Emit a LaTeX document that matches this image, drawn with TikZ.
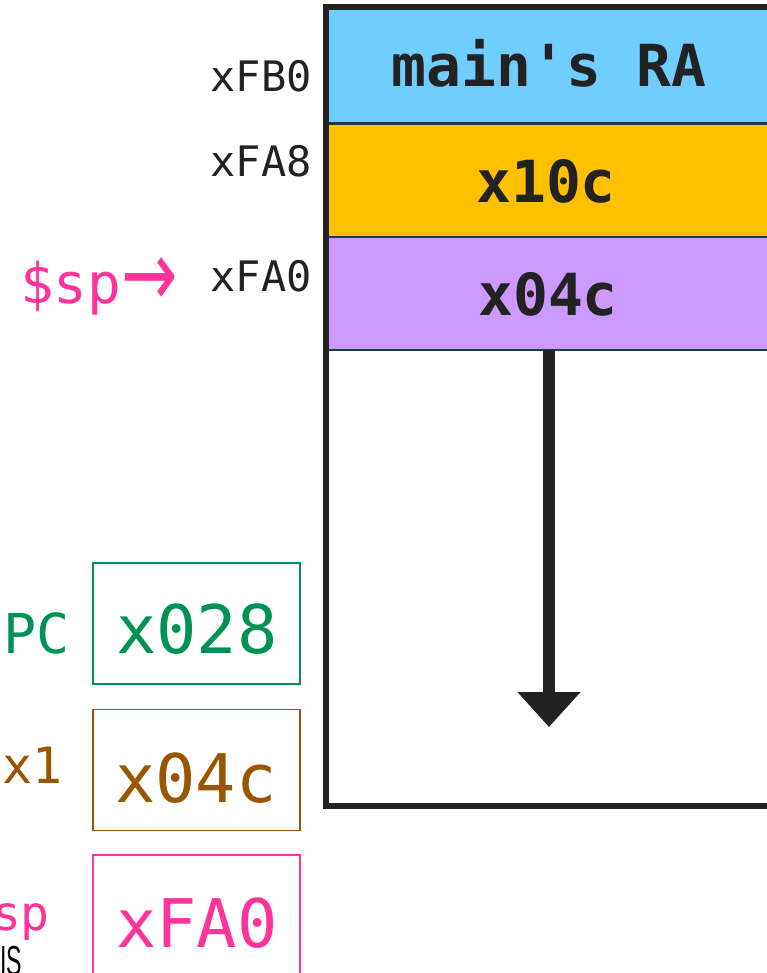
\documentclass[tikz,border=0pt]{standalone}
\usepackage{fontspec}
\usepackage{graphicx}
\setmainfont{DejaVu Sans}
\setmonofont{DejaVu Sans Mono}
\newfontfamily\narrowfont{Liberation Sans}
\newfontfamily\arrowfont{DejaVu Sans}
\usetikzlibrary{arrows.meta}

\definecolor{slotblue}{HTML}{70CDFF}
\definecolor{slotorange}{HTML}{FFC000}
\definecolor{slotpurple}{HTML}{CC99FF}
\definecolor{framegray}{HTML}{222222}
\definecolor{seam}{HTML}{1C3C48}
\definecolor{pcgreen}{HTML}{009155}
\definecolor{regbrown}{HTML}{995500}
\definecolor{sppink}{HTML}{FF3399}
\newcommand{\fsz}[1]{\fontsize{#1}{#1}\selectfont}

\tikzset{
  slot/.style={minimum width=442pt, minimum height=113pt, inner sep=0pt, outer sep=0pt},
  seamline/.style={draw=seam, line width=2.5pt},
  addr/.style={anchor=base east, inner sep=0pt, text=framegray, font=\ttfamily\fsz{42}},
  slottext/.style={anchor=base, inner sep=0pt, text=framegray, font=\ttfamily\bfseries\fsz{58}},
  regbox/.style={draw, line width=1.5pt, minimum width=207pt, minimum height=121pt, inner sep=0pt},
  regval/.style={anchor=base, inner sep=0pt, font=\ttfamily\fsz{67}},
  reglabel/.style={anchor=base east, inner sep=0pt, font=\ttfamily\fsz{55}},
}

\begin{document}
\begin{tikzpicture}[x=1pt, y=-1pt]
\useasboundingbox (0,0) rectangle (767,973);
\clip (0,0) rectangle (767,973);
\fill[white] (0,0) rectangle (767,973);

% stack slots
\node[slot, fill=slotblue]   (ra)  at (549,67)    {};
\node[slot, fill=slotorange] (fp)  at (549,180.5) {};
\node[slot, fill=slotpurple] (ret) at (549,293.5) {};
\draw[seamline] (ra.south west) -- (ra.south east);
\draw[seamline] (fp.south west) -- (fp.south east);
\draw[seamline] (ret.south west) -- (ret.south east);

% stack frame (open to the right)
\draw[framegray, line width=6pt] (790,7) -- (326,7) -- (326,806) -- (790,806);

% slot contents
\node[slottext] (raT)  at (549,87)  {main's RA};
\node[slottext] (fpT)  at (546,203) {x10c};
\node[slottext] (retT) at (548,315) {x04c};

% growth direction
\coordinate (tip) at (549,727);
\draw[framegray, line width=12pt, -{Triangle[width=61pt,length=35pt]}] (ret.south) -- (tip);

% addresses
\node[addr] (aFB0) at (312,92)  {xFB0};
\node[addr] (aFA8) at (312,177) {xFA8};
\node[addr] (aFA0) at (312,291) {xFA0};
\node[anchor=base west, inner sep=0pt, text=sppink, font=\ttfamily\fsz{56}] (spptr) at (20,303)
  {\$sp{\arrowfont\fsz{64}\raisebox{-3pt}{\scalebox{1.05}[1.45]{→}}}};

% registers
\node[regbox, draw=pcgreen]  (pc) at (196.5,623.5) {};
\node[regval, text=pcgreen]  (pcV) at (197,653) {x028};
\node[reglabel, text=pcgreen] (pcL) at (70,653) {PC};

\node[regbox, draw=regbrown] (xone) at (196.5,770) {};
\node[regval, text=regbrown] (xoneV) at (196,802) {x04c};
\node[reglabel, text=regbrown, font=\ttfamily\fsz{50}] (xoneL) at (63,783) {x1};

\node[regbox, draw=sppink]   (sp) at (196.5,915.5) {};
\node[regval, text=sppink]   (spV) at (197,947) {xFA0};
\node[reglabel, text=sppink, font=\ttfamily\fsz{48}] (spL) at (50,930) {sp};

\node[anchor=base west, inner sep=0pt, text=black, font=\narrowfont\fsz{42}] (tag) at (0,975) {\scalebox{0.55}[1]{IS}};
\end{tikzpicture}
\end{document}
